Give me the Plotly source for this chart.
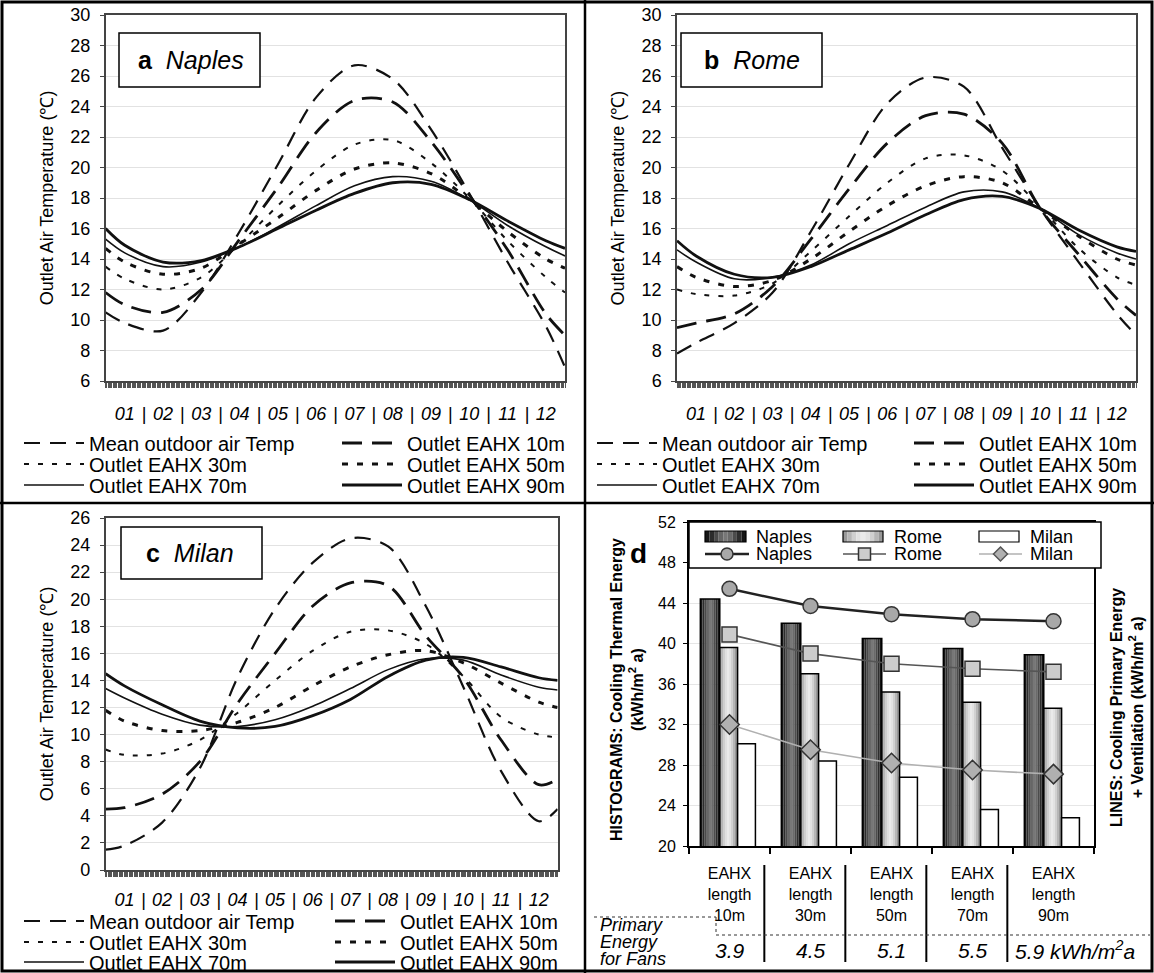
import plotly.graph_objects as go

W, H = 1154, 973
FONT = "Arial, Liberation Sans, sans-serif"

# ---------------- data ----------------
MONTH_POS = [0, 0.5, 1.5, 2.5, 3.5, 4.5, 5.5, 6.5, 7.5, 8.5, 9.5, 10.5, 11.5, 12]
MONTH_LABELS = ["01", "02", "03", "04", "05", "06", "07", "08", "09", "10", "11", "12"]
SERIES = ["Mean outdoor air Temp", "Outlet EAHX 10m", "Outlet EAHX 30m",
          "Outlet EAHX 50m", "Outlet EAHX 70m", "Outlet EAHX 90m"]

naples_outdoor = [10.5, 9.8, 9.3, 11.8, 15.8, 20.2, 24.6, 26.7, 25.8, 22.5, 18.3, 13.8, 9.6, 6.9]
naples_10m = [11.8, 11.0, 10.5, 12.0, 15.3, 18.7, 22.3, 24.4, 24.3, 21.7, 18.2, 14.6, 10.4, 9.0]
naples_30m = [13.5, 12.7, 12.0, 12.8, 15.0, 17.5, 19.8, 21.5, 21.8, 20.3, 18.0, 15.2, 12.8, 11.8]
naples_50m = [14.7, 13.8, 13.0, 13.4, 15.0, 16.7, 18.5, 19.9, 20.3, 19.6, 17.9, 15.8, 14.0, 13.4]
naples_70m = [15.3, 14.4, 13.5, 13.8, 14.8, 16.1, 17.5, 18.8, 19.4, 19.1, 17.9, 16.2, 14.8, 14.2]
naples_90m = [16.0, 14.9, 13.8, 13.9, 14.8, 16.0, 17.2, 18.3, 19.0, 18.9, 17.9, 16.5, 15.2, 14.7]

rome_outdoor = [7.8, 8.5, 9.8, 11.8, 15.8, 20.2, 24.2, 25.9, 25.3, 21.3, 17.3, 13.8, 10.4, 9.0]
rome_10m = [9.5, 9.8, 10.4, 12.2, 15.3, 18.6, 21.6, 23.4, 23.5, 21.6, 17.3, 14.3, 11.4, 10.3]
rome_30m = [12.0, 11.7, 11.6, 12.4, 14.5, 16.8, 19.0, 20.6, 20.8, 19.8, 17.4, 14.7, 12.8, 12.3]
rome_50m = [13.5, 12.8, 12.2, 12.6, 14.0, 15.8, 17.5, 18.8, 19.4, 19.0, 17.3, 15.5, 14.0, 13.6]
rome_70m = [14.6, 13.8, 12.7, 12.8, 13.6, 15.0, 16.2, 17.4, 18.4, 18.4, 17.3, 15.6, 14.4, 14.0]
rome_90m = [15.2, 14.2, 13.0, 12.8, 13.5, 14.6, 15.7, 16.9, 17.9, 18.1, 17.3, 15.9, 14.8, 14.5]

milan_outdoor = [1.5, 1.8, 3.5, 7.5, 14.2, 19.3, 22.7, 24.5, 23.9, 19.5, 13.5, 7.3, 3.6, 4.5]
milan_10m = [4.5, 4.6, 5.6, 8.0, 12.3, 16.0, 19.5, 21.2, 21.0, 17.3, 14.2, 9.6, 6.3, 6.7]
milan_30m = [8.9, 8.5, 8.6, 9.6, 11.6, 14.0, 16.2, 17.6, 17.7, 16.7, 14.3, 11.3, 10.0, 9.8]
milan_50m = [11.8, 11.0, 10.3, 10.3, 10.9, 12.0, 13.6, 15.0, 15.9, 16.2, 15.3, 13.8, 12.4, 12.0]
milan_70m = [13.4, 12.7, 11.5, 10.7, 10.6, 11.1, 12.1, 13.4, 14.8, 15.6, 15.5, 14.4, 13.5, 13.3]
milan_90m = [14.5, 13.6, 12.2, 11.0, 10.5, 10.6, 11.4, 12.6, 14.3, 15.5, 15.7, 15.0, 14.2, 14.0]

LENGTHS = ["10m", "30m", "50m", "70m", "90m"]
bars_naples = [44.4, 42.0, 40.5, 39.5, 38.9]
bars_rome = [39.6, 37.0, 35.2, 34.2, 33.6]
bars_milan = [30.1, 28.4, 26.8, 23.6, 22.8]
lines_naples = [45.4, 43.7, 42.9, 42.4, 42.2]
lines_rome = [40.9, 39.0, 38.0, 37.5, 37.2]
lines_milan = [32.0, 29.5, 28.2, 27.5, 27.1]
fan_energy = ["3.9", "4.5", "5.1", "5.5", "5.9"]

# ---------------- helpers ----------------
def px(x):
    return x / W

def py(y):
    return 1 - y / H

STYLES = [
    dict(width=2.2, dash="16px,10px"),
    dict(width=2.8, dash="20px,10px"),
    dict(width=2.0, dash="5px,9px"),
    dict(width=3.0, dash="6px,9px"),
    dict(width=1.6, dash="solid"),
    dict(width=2.8, dash="solid"),
]

fig = go.Figure()
layout = dict(width=W, height=H,
              margin=dict(l=0, r=0, t=0, b=0, autoexpand=False),
              paper_bgcolor="white", plot_bgcolor="white",
              font=dict(family=FONT, color="black"), hovermode=False,
              barmode="overlay", showlegend=True)

legend_ids = ["legend"] + ["legend%d" % i for i in range(2, 19)]
lid_iter = iter(legend_ids)

def add_curve_panel(xa, ya, vals_list, rows_y, cols_x):
    for k, (name, vals, st) in enumerate(zip(SERIES, vals_list, STYLES)):
        lid = next(lid_iter)
        fig.add_trace(go.Scatter(
            x=MONTH_POS, y=vals, mode="lines", name=name,
            line=dict(color="#111111", width=st["width"], dash=st["dash"],
                      shape="spline", smoothing=0.9),
            xaxis=xa, yaxis=ya, legend=lid))
        r, c = k // 2, k % 2
        layout[lid] = dict(x=px(cols_x[c] - 5), y=py(rows_y[r]), xanchor="left",
                           yanchor="middle", orientation="v",
                           bgcolor="rgba(0,0,0,0)", borderwidth=0, itemwidth=60,
                           font=dict(family=FONT, size=20, color="black"))

def month_xaxis(dom, anchor, standoff):
    vals, text = [], []
    for i, lab in enumerate(MONTH_LABELS):
        vals.append(i + 0.5)
        text.append(lab)
        if i < len(MONTH_LABELS) - 1:
            vals.append(i + 1)
            text.append("|")
    return dict(domain=dom, anchor=anchor, range=[0, 12], tickmode="array",
                tickvals=vals, ticktext=text, ticks="", showgrid=False,
                showline=True, linecolor="#444", linewidth=1.5, mirror=True,
                zeroline=False, automargin=False,
                tickfont=dict(family=FONT, size=18, style="italic", color="black"),
                ticklabelstandoff=standoff,
                minor=dict(tickmode="linear", tick0=0, dtick=12 / 365,
                           ticks="outside", ticklen=5, tickcolor="#555",
                           tickwidth=1, showgrid=False))

def temp_yaxis(dom, rng, anchor):
    return dict(domain=dom, anchor=anchor, range=rng, tickmode="linear", tick0=0,
                dtick=2, ticks="outside", ticklen=4, tickcolor="#444",
                showgrid=True, gridcolor="#e2e2e2", gridwidth=1,
                showline=True, linecolor="#444", linewidth=1.5, mirror=True,
                zeroline=False, automargin=False,
                tickfont=dict(family=FONT, size=18, color="black"),
                ticklabelstandoff=6,
                title=dict(text="Outlet Air Temperature (℃)",
                           font=dict(family=FONT, size=18, color="black"),
                           standoff=12))

# panels a, b, c
add_curve_panel("x", "y",
                [naples_outdoor, naples_10m, naples_30m, naples_50m, naples_70m, naples_90m],
                [443, 464, 485], [24, 342])
add_curve_panel("x2", "y2",
                [rome_outdoor, rome_10m, rome_30m, rome_50m, rome_70m, rome_90m],
                [443, 464, 485], [597, 914])
add_curve_panel("x3", "y3",
                [milan_outdoor, milan_10m, milan_30m, milan_50m, milan_70m, milan_90m],
                [921, 942, 962], [24, 335])

layout["xaxis"] = month_xaxis([px(105.6), px(565)], "y", 16)
layout["yaxis"] = temp_yaxis([py(381), py(15)], [6, 30], "x")
layout["xaxis2"] = month_xaxis([px(677), px(1136)], "y2", 16)
layout["yaxis2"] = temp_yaxis([py(381), py(15)], [6, 30], "x2")
layout["xaxis3"] = month_xaxis([px(105.6), px(557.6)], "y3", 13)
layout["yaxis3"] = temp_yaxis([py(870), py(518)], [0, 26], "x3")

# ---------------- panel d ----------------
cat_x = list(range(len(LENGTHS)))
NAPLES_SHADES = ["#161616", "#2c2c2c", "#4a4a4a", "#666666", "#777777",
                 "#6a6a6a", "#4c4c4c", "#2e2e2e", "#141414"]
ROME_SHADES = ["#9a9a9a", "#b6b6b6", "#cfcfcf", "#e0e0e0", "#eaeaea",
               "#e2e2e2", "#d0d0d0", "#b6b6b6", "#989898"]
MILAN_SHADES = ["#ffffff"]
bar_defs = [("Naples", bars_naples, -0.36, 0.24, NAPLES_SHADES),
            ("Rome", bars_rome, -0.12, 0.22, ROME_SHADES),
            ("Milan", bars_milan, 0.10, 0.22, MILAN_SHADES)]
for name, vals, off, wid, shades in bar_defs:
    n = len(shades)
    for i, c in enumerate(shades):
        fig.add_trace(go.Bar(x=cat_x, y=vals, offset=off + i * wid / n, width=wid / n,
                             marker=dict(color=c, line=dict(width=0)),
                             xaxis="x4", yaxis="y4", showlegend=False, name=name))
    fig.add_trace(go.Bar(x=cat_x, y=vals, offset=off, width=wid,
                         marker=dict(color="rgba(0,0,0,0)",
                                     line=dict(color="black", width=1.5)),
                         xaxis="x4", yaxis="y4", showlegend=False, name=name))

line_defs = [("Naples", lines_naples, "#222222", 2.5, "circle", "#a8a8a8"),
             ("Rome", lines_rome, "#555555", 1.6, "square", "#cccccc"),
             ("Milan", lines_milan, "#b0b0b0", 1.6, "diamond", "#b0b0b0")]
for name, vals, lc, lw, sym, fc in line_defs:
    fig.add_trace(go.Scatter(x=cat_x, y=vals, mode="lines+markers", name=name,
                             line=dict(color=lc, width=lw),
                             marker=dict(symbol=sym, size=15, color=fc,
                                         line=dict(color="#333333", width=1.5)),
                             xaxis="x4", yaxis="y4", showlegend=False))

layout["xaxis4"] = dict(domain=[px(689), px(1094)], anchor="y4", range=[-0.5, 4.5],
                        tickmode="array", tickvals=cat_x,
                        ticktext=["EAHX<br>length<br>%s" % L for L in LENGTHS],
                        ticks="", showgrid=False, showline=True, linecolor="black",
                        linewidth=2, mirror=True, zeroline=False, automargin=False,
                        tickfont=dict(family=FONT, size=16, color="black"),
                        ticklabelstandoff=12,
                        minor=dict(tickmode="array",
                                   tickvals=[i - 0.5 for i in range(len(LENGTHS) + 1)],
                                   ticks="outside", ticklen=6, tickcolor="black",
                                   tickwidth=1.5, showgrid=False))
layout["yaxis4"] = dict(domain=[py(846), py(522)], anchor="x4", range=[20, 52],
                        tickmode="linear", tick0=0, dtick=4, ticks="outside",
                        ticklen=4, tickcolor="black", showgrid=True,
                        gridcolor="#e6e6e6", showline=True, linecolor="black",
                        linewidth=2, mirror=True, zeroline=False, automargin=False,
                        tickfont=dict(family=FONT, size=16, color="black"),
                        ticklabelstandoff=4)

# ---------------- shapes & annotations ----------------
shapes = []
ann = []

def rect(x0, y0, x1, y1, fill="white", lc="black", lw=1.5):
    shapes.append(dict(type="rect", xref="paper", yref="paper",
                       x0=px(x0), x1=px(x1), y0=py(y1), y1=py(y0),
                       fillcolor=fill, line=dict(color=lc, width=lw), layer="above"))

def hline(x0, x1, y, lw=2, dash="solid", color="black"):
    shapes.append(dict(type="line", xref="paper", yref="paper", x0=px(x0), x1=px(x1),
                       y0=py(y), y1=py(y), line=dict(color=color, width=lw, dash=dash),
                       layer="above"))

def vline(x, y0, y1, lw=2, dash="solid", color="black"):
    shapes.append(dict(type="line", xref="paper", yref="paper", x0=px(x), x1=px(x),
                       y0=py(y0), y1=py(y1), line=dict(color=color, width=lw, dash=dash),
                       layer="above"))

def text(x, y, s, size, xanchor="center", angle=0, yanchor="middle"):
    ann.append(dict(x=px(x), y=py(y), xref="paper", yref="paper", text=s,
                    showarrow=False, xanchor=xanchor, yanchor=yanchor, textangle=angle,
                    font=dict(family=FONT, size=size, color="black")))

# frame and dividers
rect(2, 2, 1152, 971, fill="rgba(0,0,0,0)", lw=3)
vline(585, 0, 973, lw=2.5)
hline(0, 1154, 503, lw=2.5)

# panel label boxes
rect(119, 33, 260, 87)
text(191, 60, "<b>a</b>\u00a0\u00a0<i>Naples</i>", 25)
rect(681, 33, 822, 87)
text(752, 60, "<b>b</b>\u00a0\u00a0<i>Rome</i>", 25)
rect(121, 527, 262, 579)
text(190, 553, "<b>c</b>\u00a0\u00a0<i>Milan</i>", 25)

# panel d: titles
text(627, 690, "<b>HISTOGRAMS: Cooling Thermal Energy<br>(kWh/m<sup>2</sup> a)</b>", 16,
     angle=-90)
text(1127, 708, "<b>LINES: Cooling Primary Energy<br>+ Ventilation (kWh/m<sup>2</sup> a)</b>", 16,
     angle=-90)
text(638, 553, "<b>d</b>", 28)

# panel d legend (box with two rows)
rect(689, 522, 1101, 568)
leg_cols = [(705, 746, 754), (843, 883, 892), (979, 1019, 1028)]
swatch_shades = [NAPLES_SHADES, ROME_SHADES, MILAN_SHADES]
for (x0, x1, tx), shades, bd in zip(leg_cols, swatch_shades, bar_defs):
    n = len(shades)
    for i, c in enumerate(shades):
        shapes.append(dict(type="rect", xref="paper", yref="paper",
                           x0=px(x0 + (x1 - x0) * i / n), x1=px(x0 + (x1 - x0) * (i + 1) / n),
                           y0=py(542), y1=py(531), fillcolor=c, line=dict(width=0),
                           layer="above"))
    rect(x0, 531, x1, 542, fill="rgba(0,0,0,0)", lw=1.2)
    text(tx, 537, bd[0], 18, xanchor="left")
for (x0, x1, tx), (name, vals, lc, lw, sym, fc) in zip(leg_cols, line_defs):
    hline(x0, x1 + 3, 554, lw=lw, color=lc)
    cx, cy, r = (x0 + x1 + 3) / 2, 554, 6
    if sym == "circle":
        shapes.append(dict(type="circle", xref="paper", yref="paper",
                           x0=px(cx - r), x1=px(cx + r), y0=py(cy + r), y1=py(cy - r),
                           fillcolor=fc, line=dict(color="#333", width=1.5), layer="above"))
    elif sym == "square":
        rect(cx - r, cy - r, cx + r, cy + r, fill=fc, lc="#333", lw=1.5)
    else:
        r = 7
        path = "M%f,%f L%f,%f L%f,%f L%f,%f Z" % (px(cx), py(cy - r), px(cx + r), py(cy),
                                                  px(cx), py(cy + r), px(cx - r), py(cy))
        shapes.append(dict(type="path", xref="paper", yref="paper", path=path,
                           fillcolor=fc, line=dict(color="#555", width=1.5), layer="above"))
    text(tx, 554, name, 18, xanchor="left")

# fan energy table
for i in range(len(LENGTHS) - 1):
    shapes.append(dict(type="line", xref="x4", yref="paper", x0=i + 0.43, x1=i + 0.43,
                       y0=py(865), y1=py(962), line=dict(color="black", width=2),
                       layer="above"))
hline(716, 1150, 935, lw=1, dash="dot", color="#333")
hline(594, 716, 917, lw=1, dash="dot", color="#333")
vline(716, 917, 935, lw=1, dash="dot", color="#333")
text(598, 925, "<i>Primary</i>", 18, xanchor="left")
text(598, 942, "<i>Energy</i>", 18, xanchor="left")
text(598, 959, "<i>for Fans</i>", 18, xanchor="left")
for i, v in enumerate(fan_energy):
    if i < len(fan_energy) - 1:
        ann.append(dict(x=i, y=py(950), xref="x4", yref="paper", text="<i>%s</i>" % v,
                        showarrow=False, xanchor="center", yanchor="middle",
                        font=dict(family=FONT, size=21, color="black")))
    else:
        ann.append(dict(x=i - 0.5, y=py(950), xref="x4", yref="paper",
                        text="<i>%s kWh/m<sup>2</sup>a</i>" % v,
                        showarrow=False, xanchor="left", yanchor="middle",
                        font=dict(family=FONT, size=21, color="black")))

layout["shapes"] = shapes
layout["annotations"] = ann
fig.update_layout(**layout)
fig.write_html("out.html")
